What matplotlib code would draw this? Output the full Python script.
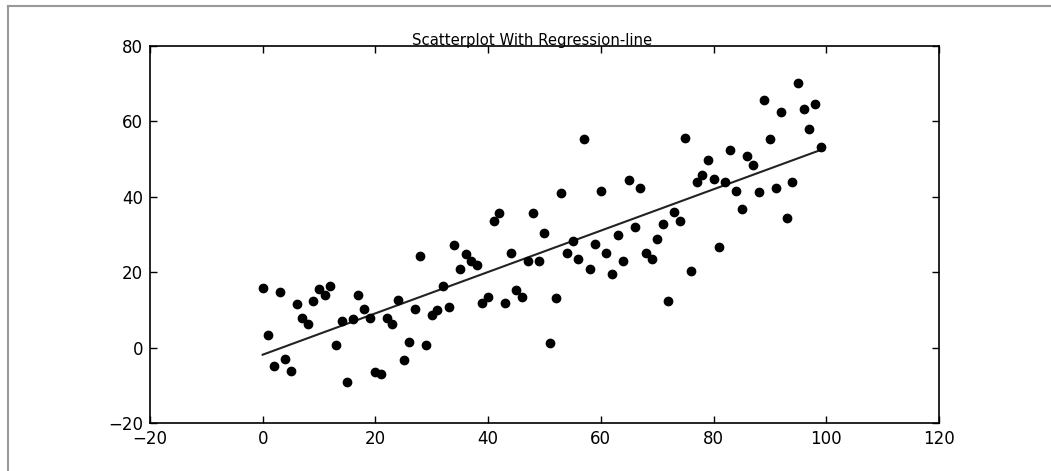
import numpy as np
import matplotlib
matplotlib.use('Agg')
import matplotlib.pyplot as plt
from matplotlib.lines import Line2D

# data
x = np.arange(100)
y = [15.9, 3.4, -4.9, 14.7, -2.9, -6.1, 11.5, 7.9, 6.3, 12.3,
     15.5, 13.9, 16.3, 0.6, 7.1, -9.0, 7.5, 14.0, 10.3, 7.9,
     -6.5, -7.0, 7.9, 6.3, 12.7, -3.4, 1.5, 10.3, 24.3, 0.7,
     8.6, 9.9, 16.3, 10.7, 27.1, 20.8, 24.8, 23.1, 21.8, 11.9,
     13.5, 33.6, 35.6, 11.9, 25.2, 15.2, 13.5, 23.1, 35.6, 23.1,
     30.3, 1.1, 13.2, 41.1, 25.2, 28.4, 23.5, 55.3, 20.8, 27.6,
     41.6, 25.2, 19.5, 30.0, 23.1, 44.5, 32.0, 42.4, 25.2, 23.5,
     28.7, 32.8, 12.4, 36.0, 33.6, 55.6, 20.3, 44.0, 45.7, 49.7,
     44.8, 26.8, 44.0, 52.4, 41.6, 36.8, 50.8, 48.4, 41.2, 65.7,
     55.3, 42.4, 62.5, 34.4, 44.0, 70.1, 63.3, 58.1, 64.5, 53.3]
y = np.array(y)

xticks = [-20, 0, 20, 40, 60, 80, 100, 120]
yticks = [-20, 0, 20, 40, 60, 80]

fig = plt.figure(figsize=(10.51, 4.71), dpi=100, facecolor='white')
ax = fig.add_axes([0.1427, 0.1019, 0.7507, 0.8004])

# regression line fitted to the points
slope, intercept = np.polyfit(x, y, 1)
ax.plot(x, slope * x + intercept, color='#222222', linewidth=1.5)
ax.plot(x, y, 'o', color='black', markersize=6)

ax.set_xlim(-20, 120)
ax.set_ylim(-20, 80)
ax.set_xticks(xticks)
ax.set_yticks(yticks)
ax.tick_params(direction='in', top=True, right=True, length=5, width=1,
               labelsize=12, pad=5)
for s in ax.spines.values():
    s.set_linewidth(1.2)
ax.set_title('Scatterplot With Regression-line', fontsize=10.7, pad=0.5, x=0.484)

# thin grey frame on top and left, like the cropped notebook output
fig.add_artist(Line2D([0.0076, 1.0], [0.987, 0.987], transform=fig.transFigure,
                      color='#999999', linewidth=1.5))
fig.add_artist(Line2D([0.0076, 0.0076], [0.0, 0.987], transform=fig.transFigure,
                      color='#999999', linewidth=1.5))

fig.savefig('out.png', dpi=100, facecolor='white')
